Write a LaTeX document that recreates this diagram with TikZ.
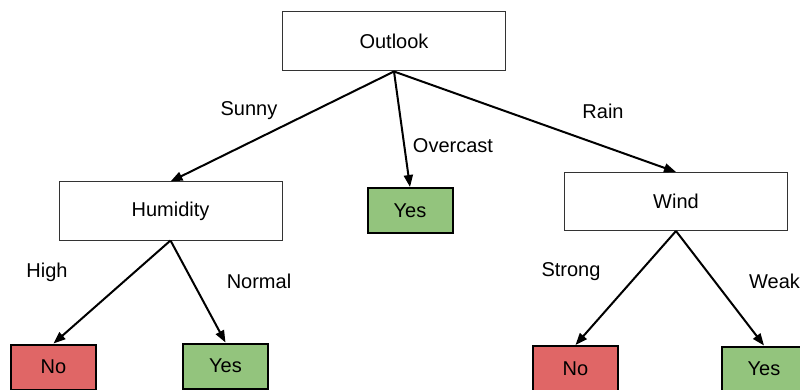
\documentclass[tikz,border=0pt]{standalone}
\usepackage{fontspec}
\setmainfont{Liberation Sans}
\usetikzlibrary{arrows.meta}
\definecolor{nored}{HTML}{E06666}
\definecolor{yesgreen}{HTML}{93C47D}
\begin{document}
\begin{tikzpicture}[x=1pt,y=-1pt,
  every node/.style={font=\fontsize{20}{22}\selectfont, inner sep=0pt},
  attr/.style={draw=black!80, line width=1pt, fill=white, minimum width=223pt, minimum height=59pt},
  leafno/.style={draw=black, line width=2pt, fill=nored, minimum width=85pt, minimum height=45pt},
  leafyes/.style={draw=black, line width=2pt, fill=yesgreen, minimum width=85pt, minimum height=45pt},
  edge/.style={line width=2pt, -{Triangle[length=12pt,width=9pt]}, shorten >=0pt},
  lbl/.style={}]
\useasboundingbox (0,0) rectangle (800,390);
\node[attr] (outlook) at (394,41.5) {Outlook};
\node[attr, minimum height=58pt] (hum) at (170.5,211) {Humidity};
\node[attr, minimum height=58pt] (wind) at (676,201.5) {Wind};
\node[leafyes] (yes1) at (410,210.5) {Yes};
\node[leafno] (no1) at (53.5,367) {No};
\node[leafyes] (yes2) at (225.5,366) {Yes};
\node[leafno] (no2) at (575.5,368.5) {No};
\node[leafyes] (yes3) at (764,369) {Yes};
\draw[edge] (outlook.south) -- (hum.north);
\draw[edge] (outlook.south) -- (yes1.north);
\draw[edge] (outlook.south) -- (wind.north);
\draw[edge] (hum.south) -- (no1.north);
\draw[edge] (hum.south) -- (yes2.north);
\draw[edge] (wind.south) -- (no2.north);
\draw[edge] (wind.south) -- (yes3.north);
\node[lbl] (lsunny) at (249,111) {Sunny};
\node[lbl] (lover) at (453,146) {Overcast};
\node[lbl] (lrain) at (603,111) {Rain};
\node[lbl] (lhigh) at (47,272) {High};
\node[lbl] (lnormal) at (259,281) {Normal};
\node[lbl] (lstrong) at (571,272) {Strong};
\node[lbl,anchor=west] (lweak) at (749,281) {Weak};
\end{tikzpicture}
\end{document}
